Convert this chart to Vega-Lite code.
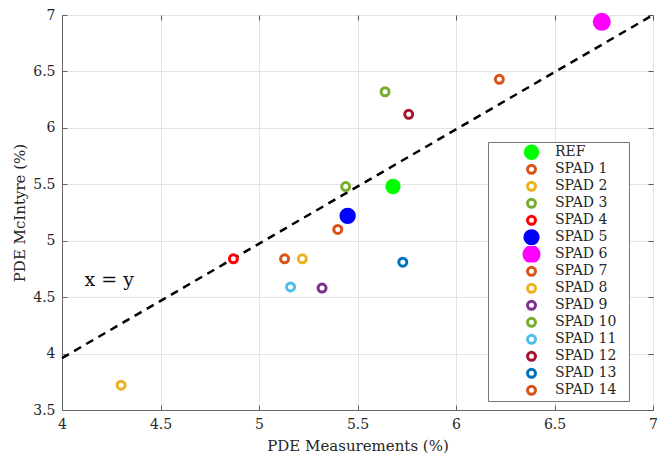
{
  "$schema": "https://vega.github.io/schema/vega-lite/v6.json",
  "autosize": "none",
  "width": 591,
  "height": 395,
  "padding": {"left": 62, "top": 15, "right": 12, "bottom": 45},
  "background": "white",
  "config": {
    "font": "DejaVu Serif",
    "view": {"stroke": "#666666"},
    "axis": {
      "labelFont": "DejaVu Serif", "labelFontSize": 14, "labelColor": "#262626",
      "titleFont": "DejaVu Serif", "titleFontSize": 15, "titleFontWeight": "normal", "titleColor": "#262626",
      "domainColor": "#666666", "tickColor": "#666666", "tickSize": -5, "labelPadding": 12,
      "gridColor": "#e3e3e3", "gridWidth": 1
    },
    "legend": {
      "orient": "none", "legendX": 426, "legendY": 127, "fillColor": "white", "strokeColor": "#777777",
      "padding": 2, "symbolOffset": 32, "labelFont": "DejaVu Serif", "labelFontSize": 14, "labelColor": "#262626",
      "symbolStrokeWidth": 3, "rowPadding": 0, "labelOffset": 14, "clipHeight": 16.6, "labelBaseline": "middle", "labelDy": 1,
      "titleOrient": "right", "titleFontSize": 12, "titlePadding": 11
    }
  },
  "resolve": {"axis": {"x": "independent", "y": "independent"}},
  "datasets": {
    "pts": [
      {"name": "REF", "x": 5.68, "y": 5.48},
      {"name": "SPAD 1", "x": 5.40, "y": 5.10},
      {"name": "SPAD 2", "x": 4.30, "y": 3.72},
      {"name": "SPAD 3", "x": 5.44, "y": 5.48},
      {"name": "SPAD 4", "x": 4.87, "y": 4.84},
      {"name": "SPAD 5", "x": 5.45, "y": 5.22},
      {"name": "SPAD 6", "x": 6.74, "y": 6.94},
      {"name": "SPAD 7", "x": 5.13, "y": 4.84},
      {"name": "SPAD 8", "x": 5.22, "y": 4.84},
      {"name": "SPAD 9", "x": 5.32, "y": 4.58},
      {"name": "SPAD 10", "x": 5.64, "y": 6.32},
      {"name": "SPAD 11", "x": 5.16, "y": 4.59},
      {"name": "SPAD 12", "x": 5.76, "y": 6.12},
      {"name": "SPAD 13", "x": 5.73, "y": 4.81},
      {"name": "SPAD 14", "x": 6.22, "y": 6.43}
    ],
    "line": [
      {"x": 4, "y": 3.96},
      {"x": 7, "y": 7}
    ],
    "label": [
      {"x": 4.24, "y": 4.65, "t": "x = y"}
    ]
  },
  "layer": [
    {
      "data": {"name": "line"},
      "mark": {"type": "line", "color": "black", "strokeWidth": 2.5, "strokeDash": [8, 6]},
      "encoding": {
        "x": {"field": "x", "type": "quantitative", "scale": {"domain": [4, 7], "nice": false, "zero": false},
              "axis": {"title": "PDE Measurements (%)", "values": [4, 4.5, 5, 5.5, 6, 6.5, 7], "format": "~g", "labelFlush": false, "titlePadding": 7}},
        "y": {"field": "y", "type": "quantitative", "scale": {"domain": [3.5, 7], "nice": false, "zero": false},
              "axis": {"title": "PDE McIntyre (%)", "values": [3.5, 4, 4.5, 5, 5.5, 6, 6.5, 7], "format": "~g", "labelFlush": false, "titlePadding": 5}}
      }
    },
    {
      "data": {"name": "label"},
      "mark": {"type": "text", "fontSize": 19, "font": "DejaVu Serif", "color": "#111111"},
      "encoding": {
        "x": {"field": "x", "type": "quantitative", "axis": {"orient": "top", "labels": false, "title": null, "grid": false, "domain": false, "ticks": true, "tickSize": -5, "tickColor": "#555555", "values": [4, 4.5, 5, 5.5, 6, 6.5, 7]}},
        "y": {"field": "y", "type": "quantitative", "axis": {"orient": "right", "labels": false, "title": null, "grid": false, "domain": false, "ticks": true, "tickSize": -5, "tickColor": "#555555", "values": [3.5, 4, 4.5, 5, 5.5, 6, 6.5, 7]}},
        "text": {"field": "t"}
      }
    },
    {
      "data": {"name": "pts"},
      "mark": {"type": "point", "shape": "circle", "strokeWidth": 3, "opacity": 1},
      "encoding": {
        "x": {"field": "x", "type": "quantitative", "axis": null},
        "y": {"field": "y", "type": "quantitative", "axis": null},
        "stroke": {"field": "name", "type": "nominal",
          "scale": {"domain": ["REF","SPAD 1","SPAD 2","SPAD 3","SPAD 4","SPAD 5","SPAD 6","SPAD 7","SPAD 8","SPAD 9","SPAD 10","SPAD 11","SPAD 12","SPAD 13","SPAD 14"],
                    "range": ["#00FF00","#D95319","#EDB120","#77AC30","#FF0000","#0000FF","#FF00FF","#D95319","#EDB120","#7E2F8E","#77AC30","#4DBEEE","#A2142F","#0072BD","#D95319"]},
          "legend": {"title": "\u2003"}},
        "fill": {"field": "name", "type": "nominal",
          "scale": {"domain": ["REF","SPAD 1","SPAD 2","SPAD 3","SPAD 4","SPAD 5","SPAD 6","SPAD 7","SPAD 8","SPAD 9","SPAD 10","SPAD 11","SPAD 12","SPAD 13","SPAD 14"],
                    "range": ["#00FF00","white","white","white","white","#0000FF","#FF00FF","white","white","white","white","white","white","white","white"]},
          "legend": {"title": "\u2003"}},
        "size": {"field": "name", "type": "nominal",
          "scale": {"type": "ordinal", "domain": ["REF","SPAD 1","SPAD 2","SPAD 3","SPAD 4","SPAD 5","SPAD 6","SPAD 7","SPAD 8","SPAD 9","SPAD 10","SPAD 11","SPAD 12","SPAD 13","SPAD 14"],
                    "range": [154, 64, 64, 64, 64, 177, 227, 64, 64, 64, 64, 64, 64, 64, 64]},
          "legend": {"title": "\u2003"}}
      }
    }
  ]
}
